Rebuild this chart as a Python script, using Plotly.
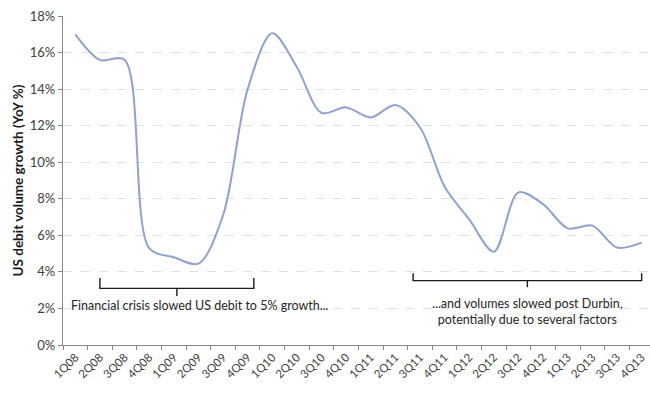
import plotly.graph_objects as go

quarters = ["1Q08", "2Q08", "3Q08", "4Q08", "1Q09", "2Q09", "3Q09", "4Q09",
            "1Q10", "2Q10", "3Q10", "4Q10", "1Q11", "2Q11", "3Q11", "4Q11",
            "1Q12", "2Q12", "3Q12", "4Q12", "1Q13", "2Q13", "3Q13", "4Q13"]
growth = [0.170, 0.156, 0.156, 0.053, 0.048, 0.0445, 0.071, 0.140,
          0.1705, 0.152, 0.127, 0.130, 0.1245, 0.1313, 0.119, 0.0866,
          0.0687, 0.051, 0.0835, 0.077, 0.0638, 0.0653, 0.0533, 0.056]

y_ticks = [0, 0.02, 0.04, 0.06, 0.08, 0.10, 0.12, 0.14, 0.16, 0.18]

note_left = "Financial crisis slowed US debit to 5% growth..."
note_right = "...and volumes slowed post Durbin,<br>potentially due to several factors"

FONT = "Lato"
TXT = "#404040"
AXIS = "#868686"

fig = go.Figure()
fig.add_trace(go.Scatter(
    x=quarters, y=growth, mode="lines",
    line=dict(color="#8fa2cb", width=2.0, shape="spline", smoothing=0.9),
    hoverinfo="skip", showlegend=False,
))


def bracket(x0, x1, y_top, y_bar, y_tip):
    xm = (x0 + x1) / 2
    return (f"M {x0},{y_top} L {x0},{y_bar} L {x1},{y_bar} L {x1},{y_top} "
            f"M {xm},{y_bar} L {xm},{y_tip}")


shapes = [
    dict(type="path", xref="x", yref="y",
         path=bracket(1.0, 7.25, 0.0367, 0.031, 0.0268),
         line=dict(color="#1a1a1a", width=1.4)),
    dict(type="path", xref="x", yref="y",
         path=bracket(13.72, 23.0, 0.0392, 0.0352, 0.0316),
         line=dict(color="#1a1a1a", width=1.4)),
]

annotations = [
    dict(x=5.05, y=0.0215, xref="x", yref="y", text=note_left, showarrow=False,
         font=dict(family=FONT, size=12.5, color="#262626"), xanchor="center", yanchor="middle"),
    dict(x=18.36, y=0.0184, xref="x", yref="y", text=note_right, showarrow=False,
         font=dict(family=FONT, size=12.5, color="#262626"), xanchor="center", yanchor="middle",
         align="center"),
]

fig.update_layout(
    width=650, height=404,
    margin=dict(l=63, r=0, t=16, b=59),
    paper_bgcolor="white", plot_bgcolor="white",
    font=dict(family=FONT, size=12, color=TXT),
    shapes=shapes, annotations=annotations,
    xaxis=dict(
        type="category", range=[-0.5, 23.34],
        tickson="boundaries", ticks="outside", ticklen=4, tickcolor=AXIS,
        tickangle=-45, tickfont=dict(family=FONT, size=11.5, color=TXT),
        showline=True, linecolor=AXIS, linewidth=1.3,
        showgrid=False, zeroline=False,
    ),
    yaxis=dict(
        range=[0, 0.18], tickvals=y_ticks, tickformat=".0%",
        ticks="outside", ticklen=4, tickcolor=AXIS,
        tickfont=dict(family=FONT, size=13, color=TXT),
        showline=True, linecolor=AXIS, linewidth=1.3,
        showgrid=True, gridcolor="#dcdfec", griddash="dash", gridwidth=1,
        zeroline=False,
        title=dict(text="<b>US debit volume growth (YoY %)</b>",
                   font=dict(family=FONT, size=13.5, color="#1a1a1a"), standoff=3),
    ),
)

fig.write_html("out.html")
